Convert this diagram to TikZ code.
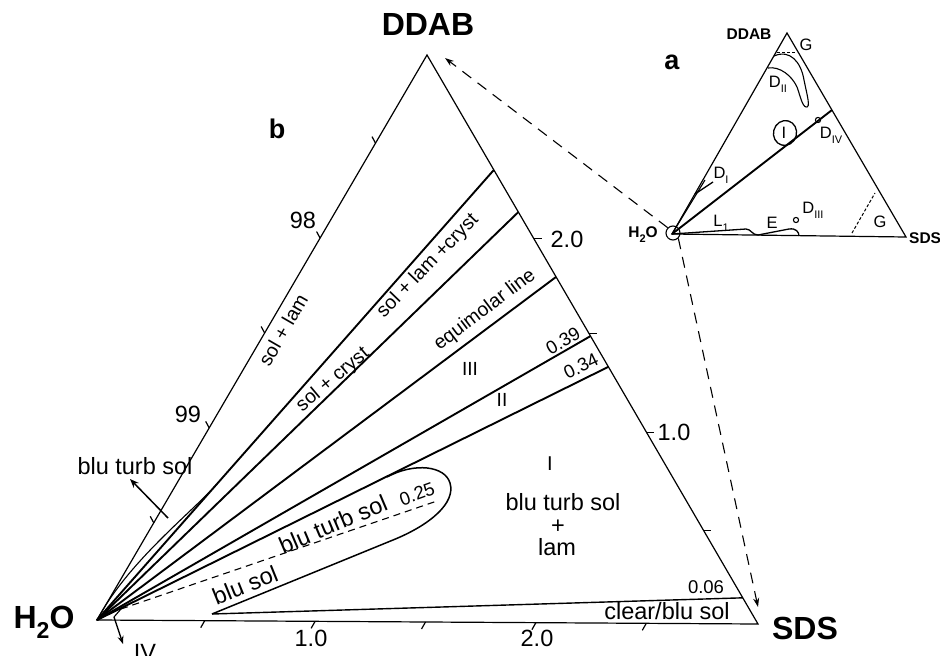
\documentclass[tikz,border=0pt]{standalone}
\usepackage{fontspec}
\setmainfont{Liberation Sans}
\usetikzlibrary{arrows.meta,calc}
\newcommand\subtxt[2]{\raisebox{-0.32em}{\fontsize{#1}{#1}\selectfont #2}}
\begin{document}
\begin{tikzpicture}[x=1pt,y=-1pt,
  edge/.style={line width=1.2pt},
  fan/.style={line width=1.9pt},
  thinline/.style={line width=1.1pt},
  dashline/.style={line width=1.1pt, dash pattern=on 7pt off 5pt},
  linkline/.style={line width=1.1pt, dash pattern=on 11pt off 8pt, -{Stealth[length=9pt,width=6pt]}},
  tag/.style={inner sep=0pt, font=\fontsize{23.5}{23.5}\selectfont},
  smalltag/.style={inner sep=0pt, font=\fontsize{19.5}{19.5}\selectfont},
  numtag/.style={inner sep=0pt, font=\fontsize{18.5}{18.5}\selectfont},
  corner/.style={inner sep=0pt, font=\fontsize{32}{32}\selectfont\bfseries},
  panel/.style={inner sep=0pt, font=\fontsize{27}{27}\selectfont\bfseries},
  minicorner/.style={inner sep=0pt, font=\fontsize{15.5}{15.5}\selectfont\bfseries},
  minitag/.style={inner sep=0pt, font=\fontsize{16.5}{16.5}\selectfont},
]
\useasboundingbox (0,0) rectangle (940,656);

% ---------- panel b: main ternary diagram ----------
\coordinate (H) at (97,620);
\coordinate (D) at (427,55);
\coordinate (S) at (758,624);
\draw[edge, line join=miter] (H) -- (D) -- (S) -- cycle;

% end points of the phase boundaries on the DDAB--SDS side
\coordinate (f1) at ($(D)!0.202!(S)$);
\coordinate (f2) at ($(D)!0.276!(S)$);
\coordinate (f3) at ($(D)!0.390!(S)$);
\coordinate (f4) at ($(D)!0.494!(S)$);
\coordinate (f5) at ($(D)!0.548!(S)$);
\coordinate (f6) at ($(D)!0.954!(S)$);

\draw[fan] (H) -- (f1);
\draw[fan] (H) -- (f2);
\draw[fan] (H) -- (f3);
\draw[fan] (H) -- (f4);
\draw[fan] (H) -- (f5);

% narrow blue turbid band next to the water corner
\coordinate (m1) at ($(H)!0.30!(f1)$);
\draw[thinline] (H) .. controls (128,562) and (190,514) .. (m1);

% blue solution lobe and clear/blue strip
\coordinate (w) at (212,614);
\draw[line width=1.5pt] (w) -- (393,540) .. controls (430,525) and (456,503) .. (450,483)
      .. controls (445,466) and (415,462) .. (387,477);
\draw[line width=1.4pt] (w) -- (f6);
\coordinate (q0) at (121,609);
\coordinate (q1) at (437,501);
\draw[dashline] (q0) -- (q1);

% region IV marker at the water corner
\coordinate (iv0) at (114,617);
\draw[thinline] (iv0) -- (q0);
\coordinate (iv1) at (123,644);
\draw[line width=1.3pt, -{Stealth[length=8pt,width=6pt]}] (iv0) -- (iv1);

% scale ticks
\foreach \t in {0.172,0.34,0.508,0.676,0.844}
  \draw[edge] ($(H)!\t!(D)$) -- ++(-3.5,-6.5);
\foreach \t in {0.163,0.33,0.497,0.664,0.831}
  \draw[edge] ($(H)!\t!(S)$) -- ++(-4,7);
\foreach \t in {0.322,0.489,0.663,0.835}
  \draw[edge] ($(D)!\t!(S)$) -- ++(8,0);

% corner labels
\node[corner] (nD) at (428,24) {DDAB};
\node[corner] (nH) at (44,622) {H\subtxt{23}{2}O};
\node[corner] (nS) at (805,628) {SDS};
\node[panel] (pb) at (277,129) {b};

% scale labels
\node[tag] (s98) at (303,220) {98};
\node[tag] (s99) at (188,414) {99};
\node[tag] (r20) at (567,239) {2.0};
\node[tag] (r10) at (674,432) {1.0};
\node[tag] (b10) at (311,638) {1.0};
\node[tag] (b20) at (537,638) {2.0};

% region labels
\node[smalltag, rotate=60] (t1) at (283,330) {sol + lam};
\node[smalltag, rotate=46] (t2) at (428,266) {sol + lam +cryst};
\node[smalltag, rotate=40] (t3) at (333,380) {sol + cryst};
\node[smalltag, rotate=37] (t4) at (485,310) {equimolar line};
\node[numtag, rotate=30] (t5) at (563,341) {0.39};
\node[numtag, rotate=26] (t6) at (581,366) {0.34};
\node[inner sep=0pt, font=\fontsize{19}{19}\selectfont] (r3) at (470,369) {III};
\node[inner sep=0pt, font=\fontsize{19}{19}\selectfont] (r2) at (502,400) {II};
\node[inner sep=0pt, font=\fontsize{20}{20}\selectfont] (r1) at (550,464) {I};
\node[tag] (r1a) at (563,502) {blu turb sol};
\node[tag] (r1b) at (558,527) {+};
\node[tag] (r1c) at (557,547) {lam};
\node[tag, rotate=23] (t7) at (333,524) {blu turb sol};
\node[numtag, rotate=20] (t8) at (417,494) {0.25};
\node[tag, rotate=22] (t9) at (245,585) {blu sol};
\node[numtag] (t10) at (706,587) {0.06};
\node[tag] (t11) at (667,611) {clear/blu sol};
\node[tag] (t12) at (135,466) {blu turb sol};
\node[tag] (t13) at (145,652) {IV};

\coordinate (a0) at (168,518);
\coordinate (a1) at (130,479);
\draw[line width=1.5pt, -{Stealth[length=9pt,width=7pt]}] (a0) -- (a1);

% ---------- panel a: inset overview ----------
\coordinate (h) at (672,234);
\coordinate (d) at (787,33);
\coordinate (s) at (906,237);
\draw[edge, line join=miter] (h) -- (d) -- (s) -- cycle;

\node[panel] (pa) at (672,62) {a};
\node[minicorner] (nd) at (749,34) {DDAB};
\node[minicorner] (nh) at (643,235) {H\subtxt{11}{2}O};
\node[minicorner, anchor=west] (ns) at (909,238) {SDS};

% equimolar line with points
\coordinate (e1) at (832,110);
\draw[fan] (h) -- (e1);
\draw[line width=1.1pt] (818,120) circle (2.6);
\draw[line width=1.3pt, rotate around={-15:(785,133)}] (785,133) ellipse (11.5 and 12.5);
\node[minitag] (i1) at (784,133) {I};
\node[minitag] (dIV) at (831,135) {D\subtxt{11}{IV}};

% D_I wedge
\draw[thinline] (h) -- (705,180);
\draw[line width=1.3pt] (695,194) -- (713,182);
\node[minitag] (dI) at (721,175) {D\subtxt{11}{I}};

% D_II region
\draw[line width=1.1pt] (774,56) .. controls (790,49) and (801,62) .. (804,80)
   .. controls (807,95) and (811,108) .. (806,107)
   .. controls (802,106) and (800,95) .. (797,87)
   .. controls (792,76) and (780,66) .. (768,68);
\node[minitag] (dII) at (778,84) {D\subtxt{11}{II}};

% G regions
\draw[line width=1pt, dash pattern=on 3pt off 2pt] (777,52) -- (797,52);
\node[minitag] (g1) at (806,45) {G};
\draw[line width=1pt, dash pattern=on 3pt off 2pt] (852,233) -- (875,193);
\node[minitag] (g2) at (880,222) {G};

% L1 and E along the water--SDS side
\draw[line width=1.3pt] (h) -- (746,229) .. controls (751,229) and (752,235) .. (758,235)
   -- (789,229) .. controls (796,228) and (799,232) .. (799,236);
\node[minitag] (l1) at (721,223) {L\subtxt{11}{1}};
\node[minitag] (eE) at (772,223) {E};
\draw[line width=1.1pt] (796,220) circle (2.6);
\node[minitag] (dIII) at (813,210) {D\subtxt{11}{III}};

% water corner ring and links to the enlarged panel
\node[draw, circle, line width=1.1pt, minimum size=14pt, inner sep=0pt] (ring) at (673,233) {};
\coordinate (dtip) at (445,58);
\coordinate (stip) at (758,607);
\draw[linkline] (ring.north west) -- (dtip);
\draw[linkline] (ring.south east) -- (stip);
\end{tikzpicture}
\end{document}
